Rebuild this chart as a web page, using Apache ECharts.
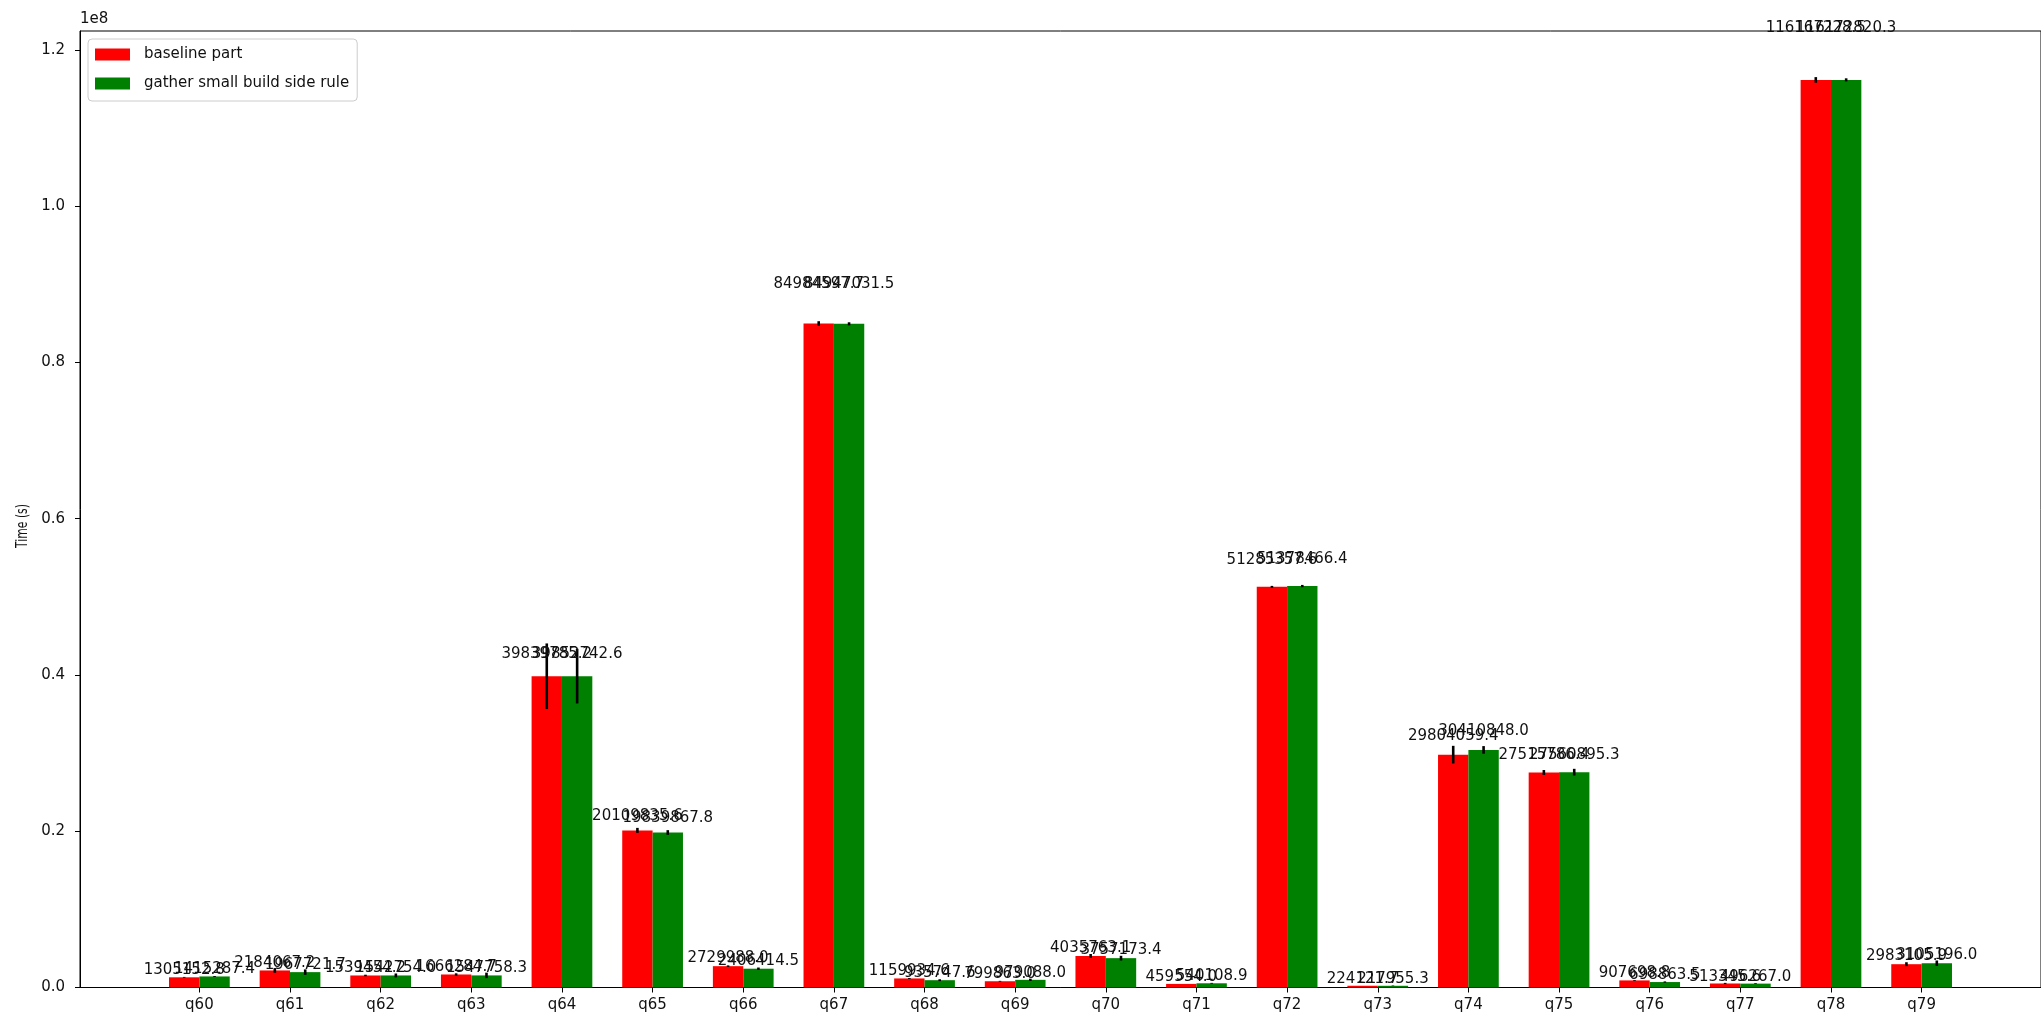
<!DOCTYPE html>
<html><head><meta charset="utf-8">
<script src="https://cdn.jsdelivr.net/npm/echarts@6/dist/echarts.min.js"></script>
<style>html,body{margin:0;padding:0;background:#fff}#c{width:2041px;height:1024px}</style>
</head><body><div id="c"></div>
<script>
const categories = ['q60','q61','q62','q63','q64','q65','q66','q67','q68','q69','q70','q71','q72','q73','q74','q75','q76','q77','q78','q79'];
const baselineValues = [1305152.8, 2184067.2, 1539454.2, 1666284.7, 39839785.2, 20109835.6, 2729988.0, 84984597.7, 1159934.6, 799863.0, 4035763.1, 459554.0, 51285357.6, 224121.7, 29804059.4, 27515786.4, 907698.8, 513345.6, 116167228.5, 2983105.9];
const gatherValues = [1415287.4, 1967721.7, 1542754.0, 1547758.3, 39852742.6, 19839867.8, 2406414.5, 84947031.5, 935747.6, 979088.0, 3757173.4, 540108.9, 51378466.4, 217955.3, 30410848.0, 27560895.3, 698863.5, 496267.0, 116172820.3, 3105196.0];
const baselineErrors = [50000, 300000, 100000, 150000, 4200000, 320000, 100000, 300000, 60000, 50000, 250000, 0, 120000, 0, 1130000, 320000, 50000, 80000, 360000, 250000];
const gatherErrors = [60000, 350000, 250000, 350000, 3500000, 300000, 150000, 200000, 120000, 150000, 300000, 50000, 150000, 30000, 490000, 430000, 80000, 50000, 200000, 350000];
const yTickValues = [0, 20000000, 40000000, 60000000, 80000000, 100000000, 120000000];

const FONT = '"DejaVu Sans", sans-serif';
const TEXT_COLOR = '#111';
const BAR_W = 0.335;
const OFFSET = BAR_W / 2;
const idx = categories.map((c, i) => i);

function barRender(offset, color) {
  return function (params, api) {
    const i = api.value(0), v = api.value(1), e = api.value(2);
    const x = i + offset;
    const p0 = api.coord([x - BAR_W / 2, 0]);
    const p1 = api.coord([x + BAR_W / 2, v]);
    const children = [{
      type: 'rect',
      shape: { x: p0[0], y: p1[1], width: p1[0] - p0[0], height: p0[1] - p1[1] },
      style: { fill: color }
    }];
    if (e > 0) {
      const a = api.coord([x, v - e]), b = api.coord([x, v + e]);
      children.push({
        type: 'line', z2: 10,
        shape: { x1: a[0], y1: a[1], x2: b[0], y2: b[1] },
        style: { stroke: '#000', lineWidth: 2.6 }
      });
    }
    return { type: 'group', children };
  };
}

function labelRender(params, api) {
  const i = api.value(0), v = api.value(1), s = api.value(2);
  const x = i + (s === 0 ? -OFFSET : OFFSET);
  const p = api.coord([x, v * 1.05]);
  return {
    type: 'text',
    style: {
      text: v.toFixed(1), x: p[0], y: p[1] + 1,
      font: '15px ' + FONT, fill: TEXT_COLOR,
      align: 'center', verticalAlign: 'bottom'
    }
  };
}

const redData = categories.map((c, i) => [i, baselineValues[i], baselineErrors[i]]);
const greenData = categories.map((c, i) => [i, gatherValues[i], gatherErrors[i]]);
const labelData = redData.map(d => [d[0], d[1], 0]).concat(greenData.map(d => [d[0], d[1], 1]));

const chart = echarts.init(document.getElementById('c'), null, { renderer: 'canvas' });
chart.setOption({
  animation: false,
  backgroundColor: '#fff',
  grid: { left: 80, right: -2, top: 31, bottom: 36.5, show: true, borderColor: '#000', borderWidth: 1, backgroundColor: 'transparent' },
  legend: {
    data: ['baseline part', 'gather small build side rule'],
    orient: 'vertical', left: 88, top: 39,
    itemWidth: 35, itemHeight: 12, itemGap: 14,
    icon: 'rect',
    padding: [8, 8, 10, 7],
    backgroundColor: 'rgba(255,255,255,0.8)',
    borderColor: '#cccccc', borderWidth: 1, borderRadius: 4,
    textStyle: { fontSize: 15, fontFamily: FONT, color: TEXT_COLOR, padding: [0, 0, 0, 9] }
  },
  xAxis: {
    type: 'value', min: -1.317, max: 20.317,
    splitLine: { show: false },
    axisLine: { onZero: false, lineStyle: { color: '#000', width: 1 } },
    axisTick: { customValues: idx, length: 5, lineStyle: { color: '#000', width: 1 } },
    axisLabel: { customValues: idx, formatter: v => categories[Math.round(v)] || '', margin: 10, fontSize: 15, fontFamily: FONT, color: TEXT_COLOR }
  },
  yAxis: {
    type: 'value', min: 0, max: 122430000,
    splitLine: { show: false },
    axisLine: { show: true, onZero: false, lineStyle: { color: '#000', width: 1 } },
    axisTick: { show: true, customValues: yTickValues, length: 5, lineStyle: { color: '#000', width: 1 } },
    axisLabel: { customValues: yTickValues, formatter: v => (v / 1e8).toFixed(1), margin: 15, fontSize: 15, fontFamily: FONT, color: TEXT_COLOR }
  },
  graphic: [
    { type: 'text', left: 80, top: 12, style: { text: '1e8', font: '15px ' + FONT, fill: TEXT_COLOR } },
    { type: 'text', x: 23, y: 526, rotation: Math.PI / 2, scaleX: 0.72, style: { text: 'Time (s)', font: '15px ' + FONT, fill: TEXT_COLOR, align: 'center', verticalAlign: 'middle' } }
  ],
  series: [
    { name: 'baseline part', type: 'custom', itemStyle: { color: '#ff0000' }, renderItem: barRender(-OFFSET, '#ff0000'), data: redData, encode: { x: 0, y: 1 }, z: 2 },
    { name: 'gather small build side rule', type: 'custom', itemStyle: { color: '#008000' }, renderItem: barRender(OFFSET, '#008000'), data: greenData, encode: { x: 0, y: 1 }, z: 2 },
    { name: 'labels', type: 'custom', renderItem: labelRender, data: labelData, encode: { x: 0, y: 1 }, z: 5, silent: true, clip: false }
  ]
});
</script>
</body></html>
